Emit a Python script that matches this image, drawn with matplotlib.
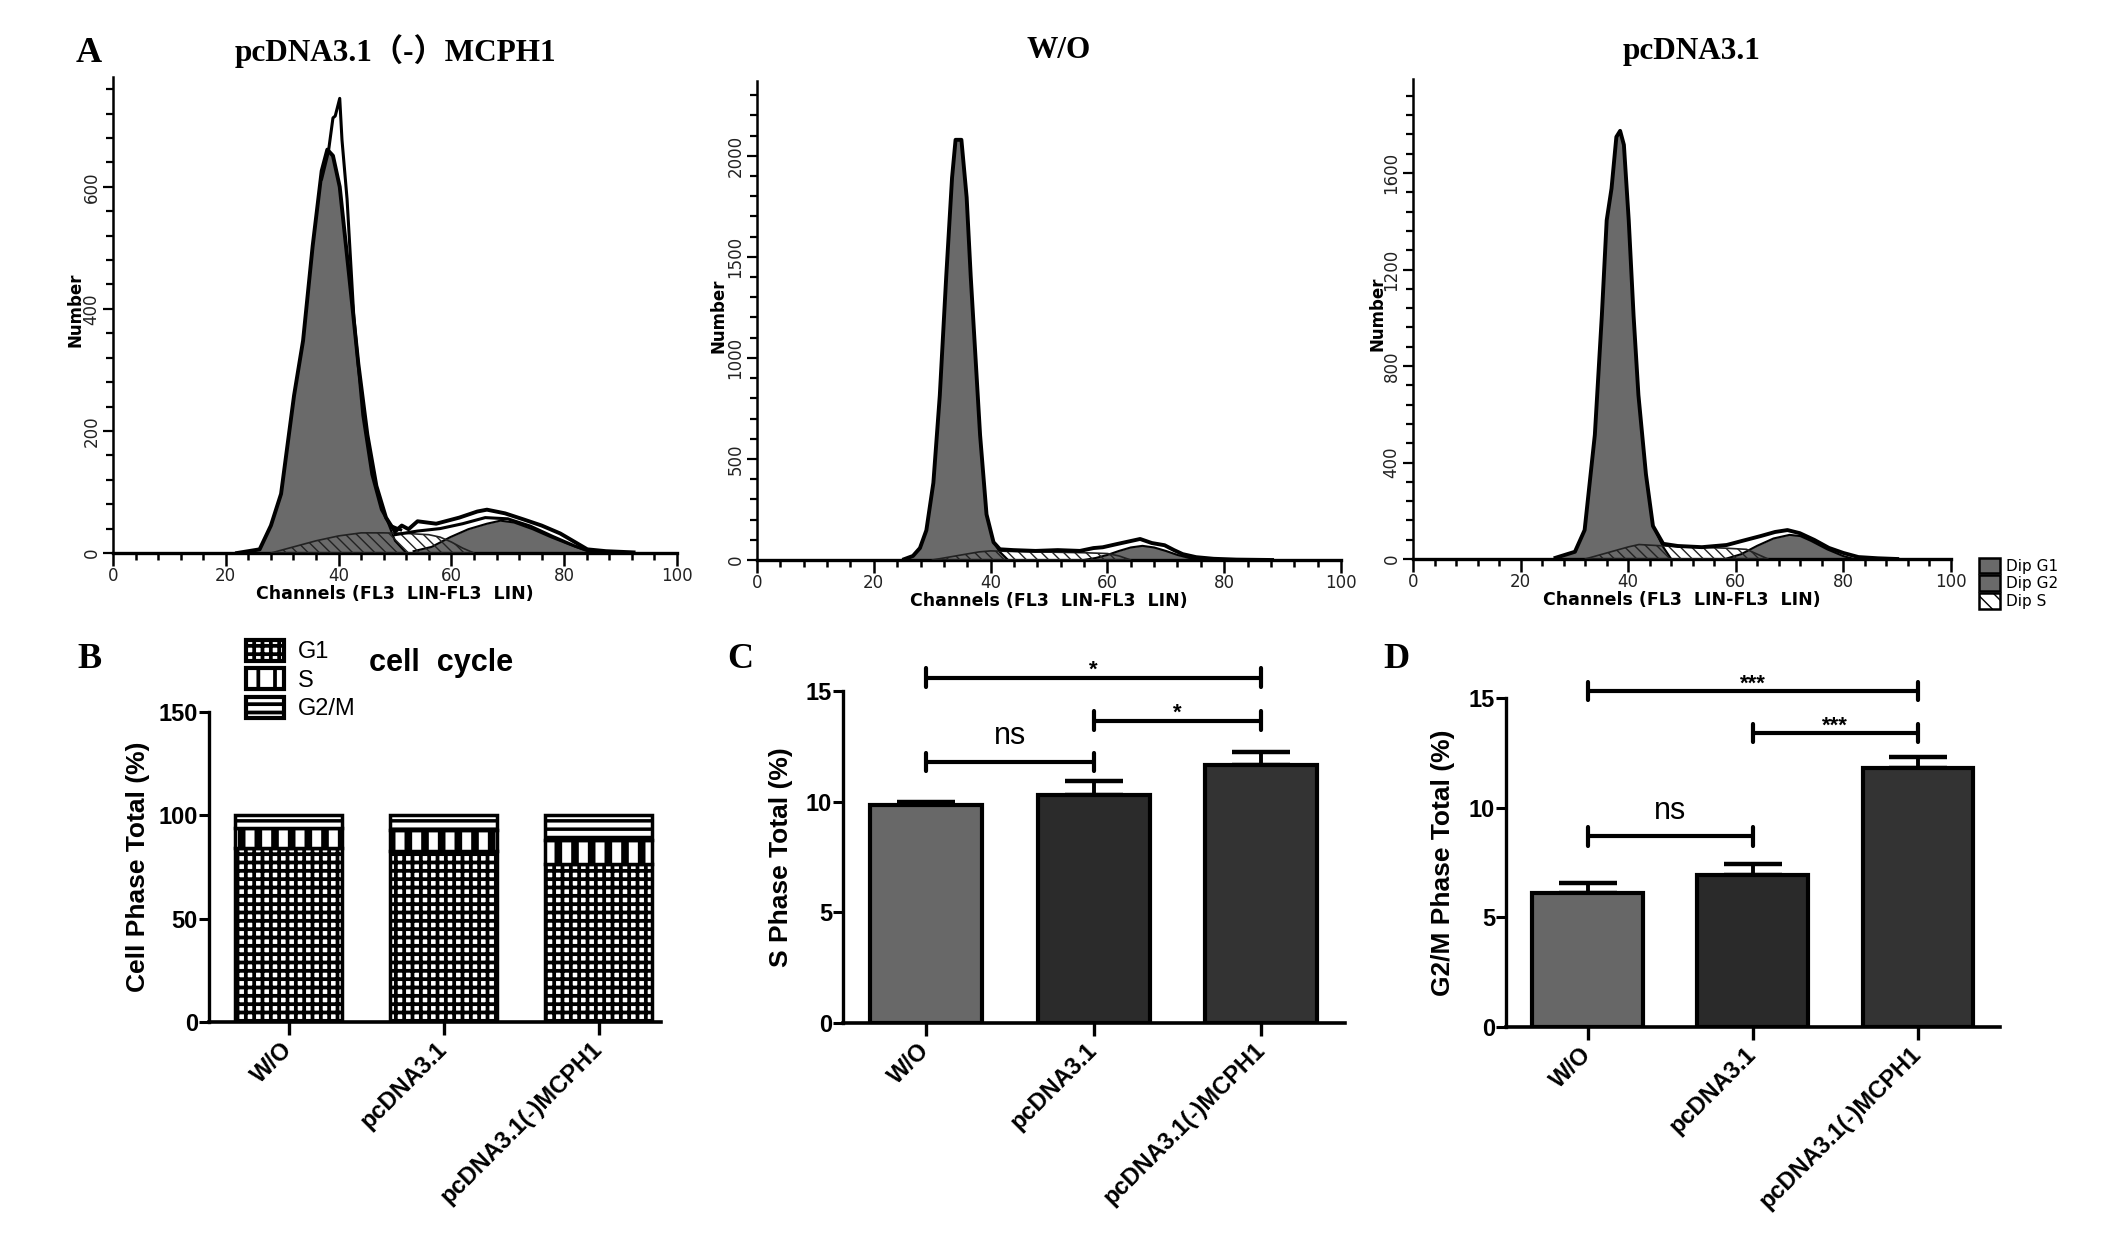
import matplotlib
matplotlib.use('Agg')
import numpy as np
import matplotlib.pyplot as plt
from matplotlib.patches import Patch
from matplotlib.ticker import MultipleLocator

W, H = 2126, 1239

# ---- panel A: flow cytometry histograms ----
# pcDNA3.1(-)MCPH1
mc_env_x = [22, 26, 28, 29.8, 32.1, 33.7, 35.4, 37, 38, 39, 40.2, 41.9, 43.5, 45.1, 46.7, 48.4, 50,
            51.2, 52.4, 54, 57.3, 61.4, 64.6, 66.3, 69.5, 72.8, 76, 79.3, 81.7, 84.1, 87.4, 92.3]
mc_env_y = [0, 6, 45, 97, 258, 348, 503, 626, 661, 651, 600, 452, 310, 194, 110, 58, 35,
            45, 39, 52, 48, 58, 68, 71, 65, 55, 45, 32, 19, 6, 3, 1]
mc_raw_x = [37, 38.2, 39, 39.4, 40.2, 40.6, 41.5, 42.7, 44.3, 45.9, 47.6, 49.2, 51]
mc_raw_y = [613, 658, 713, 716, 745, 677, 580, 387, 226, 129, 71, 45, 38]
mc_fit_x = [50, 54, 58, 62, 66, 70, 74, 78, 82, 85]
mc_fit_y = [30, 36, 40, 48, 58, 56, 44, 27, 11, 2]
mc_g1_x = [24, 26, 28, 29.8, 32.1, 33.7, 35.4, 37, 38, 39, 40.2, 41.9, 43.5, 45.1, 46.7, 48.4, 50, 52]
mc_g1_y = [0, 6, 45, 97, 258, 348, 503, 626, 661, 651, 600, 452, 310, 194, 110, 58, 20, 0]
mc_g2_x = [53.3, 56.5, 59.8, 63, 66.3, 68.7, 71.1, 74.4, 77.6, 80.9, 84.1, 85.8]
mc_g2_y = [3, 10, 26, 39, 48, 53, 50, 39, 26, 14, 3, 0]
mc_s_x = [28, 32, 36, 40, 44, 48, 52, 56, 58, 60, 62, 64]
mc_s_y = [0, 10, 20, 28, 33, 33, 32, 30, 26, 18, 8, 0]

# W/O
wo_env_x = [25.2, 26.7, 27.9, 29, 30.2, 31.3, 32.4, 33.4, 34, 35, 35.9, 36.6, 37.4, 38.2, 39.3, 40.5,
            41.6, 43.9, 47.7, 51.5, 55.3, 57.6, 59.2, 61.5, 63.7, 65.6, 67.6, 69.8, 71.4, 72.9, 75.2,
            78.2, 82.1, 88.2]
wo_env_y = [4, 20, 59, 147, 382, 814, 1402, 1892, 2079, 2079, 1794, 1402, 1010, 618, 226, 88,
            53, 49, 45, 49, 45, 59, 63, 78, 92, 104, 84, 73, 49, 29, 14, 6, 2, 0]
wo_g1_x = [25.2, 26.7, 27.9, 29, 30.2, 31.3, 32.4, 33.4, 34, 35, 35.9, 36.6, 37.4, 38.2, 39.3, 40.5, 41.6, 43]
wo_g1_y = [4, 20, 59, 147, 382, 814, 1402, 1892, 2079, 2079, 1794, 1402, 1010, 618, 226, 88, 40, 0]
wo_g2_x = [56, 58, 60, 62, 64, 66, 68, 70, 72, 74, 76]
wo_g2_y = [0, 10, 25, 45, 62, 70, 62, 45, 25, 10, 0]
wo_s_x = [30, 34, 38, 40, 44, 48, 52, 56, 60, 62, 64]
wo_s_y = [0, 20, 40, 45, 42, 40, 38, 36, 32, 20, 0]

# pcDNA3.1
pc_env_x = [26.5, 30.1, 31.9, 33.8, 35.1, 36, 36.9, 37.8, 38.5, 39.2, 40.1, 41, 41.9, 43.3, 44.6, 46.5,
            49.2, 53.7, 58.3, 61, 64.6, 67.3, 69.6, 71.9, 74.6, 77.3, 80, 82.8, 86.4, 90]
pc_env_y = [5, 30, 120, 515, 1009, 1404, 1536, 1750, 1775, 1717, 1404, 1009, 680, 351, 137, 63,
            54, 49, 58, 74, 95, 112, 120, 107, 79, 46, 25, 8, 3, 0]
pc_g1_x = [26.5, 30.1, 31.9, 33.8, 35.1, 36, 36.9, 37.8, 38.5, 39.2, 40.1, 41, 41.9, 43.3, 44.6, 46.5, 48]
pc_g1_y = [5, 30, 120, 515, 1009, 1404, 1536, 1750, 1775, 1717, 1404, 1009, 680, 351, 137, 50, 0]
pc_g2_x = [58, 61, 64, 67, 70, 72, 74, 77, 80, 82]
pc_g2_y = [0, 20, 55, 85, 100, 95, 75, 40, 12, 0]
pc_s_x = [32, 36, 40, 42, 46, 50, 54, 58, 62, 64, 66]
pc_s_y = [0, 25, 50, 60, 55, 50, 48, 45, 40, 20, 0]

# ---- panels B-D ----
groups = ['W/O', 'pcDNA3.1', 'pcDNA3.1(-)MCPH1']
g1_total = [84.1, 82.8, 76.5]
s_total = [9.86, 10.3, 11.66]
s_err = [0.14, 0.65, 0.6]
g2m_total = [6.13, 6.94, 11.81]
g2m_err = [0.45, 0.49, 0.5]
s_sig = [(0, 2, 15.6, '*'), (1, 2, 13.66, '*'), (0, 1, 11.8, 'ns')]
g2m_sig = [(0, 2, 15.32, '***'), (1, 2, 13.4, '***'), (0, 1, 8.69, 'ns')]

GRAY = '#6a6a6a'
SANS = 'Liberation Sans'
SERIF = ['Liberation Serif', 'Noto Sans CJK SC']

fig = plt.figure(figsize=(W / 100, H / 100), dpi=100)


def px_axes(l, t, r, b):
    return fig.add_axes([l / W, 1 - b / H, (r - l) / W, (b - t) / H])


def hist_panel(ax, env_x, env_y, g1_x, g1_y, g2_x, g2_y, s_x, s_y, ymax, major, minor):
    ax.fill_between(g1_x, g1_y, color=GRAY, lw=0, zorder=2)
    ax.plot(g1_x, g1_y, color='black', lw=1.5, zorder=3)
    ax.fill_between(g2_x, g2_y, color=GRAY, lw=0, zorder=2)
    ax.plot(g2_x, g2_y, color='black', lw=1.5, zorder=3)
    ax.fill_between(s_x, s_y, facecolor='none', edgecolor='#222222', hatch='\\\\\\', lw=1.2, zorder=4)
    ax.plot(env_x, env_y, color='black', lw=2.8, zorder=5)
    ax.set_xlim(0, 100)
    ax.set_ylim(0, ymax)
    ax.xaxis.set_major_locator(MultipleLocator(20))
    ax.xaxis.set_minor_locator(MultipleLocator(4))
    ax.yaxis.set_major_locator(MultipleLocator(major))
    ax.yaxis.set_minor_locator(MultipleLocator(minor))
    for s in ('top', 'right'):
        ax.spines[s].set_visible(False)
    ax.spines['left'].set_linewidth(1.8)
    ax.spines['bottom'].set_linewidth(2.4)
    ax.tick_params(axis='x', which='major', length=9, width=1.8, direction='out', labelsize=12,
                   labelcolor='#222222', pad=1)
    ax.tick_params(axis='x', which='minor', length=5, width=1.8, direction='out')
    ax.tick_params(axis='y', which='major', length=7, width=1.6, direction='out', labelsize=12,
                   labelcolor='#222222', labelrotation=90, pad=2)
    ax.tick_params(axis='y', which='minor', length=5, width=1.6, direction='out')
    for lab in ax.get_yticklabels():
        lab.set_va('center')
    ax.set_xlabel('Channels (FL3  LIN-FL3  LIN)', fontsize=12.5, fontweight='bold', labelpad=0)
    ax.set_ylabel('Number', fontsize=12, fontweight='bold', va='center')
    ax.yaxis.set_label_coords(-0.066, 0.51)


ax1 = px_axes(113, 77, 677, 553)
hist_panel(ax1, mc_env_x, mc_env_y, mc_g1_x, mc_g1_y, mc_g2_x, mc_g2_y, mc_s_x, mc_s_y, 780, 200, 40)
ax1.plot(mc_raw_x, mc_raw_y, color='black', lw=2.2, zorder=5)
ax1.plot(mc_fit_x, mc_fit_y, color='black', lw=2.2, zorder=5)

ax2 = px_axes(757, 81, 1341, 560)
hist_panel(ax2, wo_env_x, wo_env_y, wo_g1_x, wo_g1_y, wo_g2_x, wo_g2_y, wo_s_x, wo_s_y, 2370, 500, 100)

ax3 = px_axes(1413, 79, 1951, 559)
hist_panel(ax3, pc_env_x, pc_env_y, pc_g1_x, pc_g1_y, pc_g2_x, pc_g2_y, pc_s_x, pc_s_y, 1990, 400, 80)

fig.text(395 / W, 1 - 51 / H, 'pcDNA3.1（-）MCPH1', family=SERIF, fontsize=22.5, fontweight='bold',
         ha='center', va='center')
fig.text(1059 / W, 1 - 50 / H, 'W/O', family=SERIF, fontsize=22.5, fontweight='bold', ha='center', va='center')
fig.text(1692 / W, 1 - 51 / H, 'pcDNA3.1', family=SERIF, fontsize=22.5, fontweight='bold', ha='center', va='center')

dip_handles = [Patch(facecolor=GRAY, edgecolor='black', lw=1.8),
               Patch(facecolor=GRAY, edgecolor='black', lw=1.8),
               Patch(facecolor='white', edgecolor='black', hatch='\\\\', lw=1.8)]
fig.legend(dip_handles, ['Dip G1', 'Dip G2', 'Dip S'], loc='upper left',
           bbox_to_anchor=(1971 / W, 1 - 550 / H), frameon=False, fontsize=11,
           handlelength=1.4, handleheight=1.2, handletextpad=0.4, labelspacing=0.12, borderpad=0)


# ---- bar chart helpers ----
def bar_style(ax, ymax, major, ylabel, lab_x):
    ax.set_ylim(0, ymax)
    ax.yaxis.set_major_locator(MultipleLocator(major))
    ax.set_xticks(range(3))
    ax.set_xticklabels(groups, rotation=45, ha='right', va='center', rotation_mode='anchor',
                       fontsize=17, fontweight='bold', family=SANS)
    for lab in ax.get_yticklabels():
        lab.set_fontweight('bold')
        lab.set_family(SANS)
        lab.set_fontsize(17)
    for s in ('top', 'right'):
        ax.spines[s].set_visible(False)
    ax.spines['left'].set_linewidth(2.4)
    ax.spines['bottom'].set_linewidth(2.6)
    ax.tick_params(axis='y', length=7, width=2.2, pad=1)
    ax.tick_params(axis='x', length=9, width=2.4, pad=8)
    ax.set_ylabel(ylabel, fontsize=19, fontweight='bold', family=SANS, va='center')
    ax.yaxis.set_label_coords(lab_x, 0.5)


def hatch_lw(bars, lw):
    for p in bars:
        if hasattr(p, 'set_hatch_linewidth'):
            p.set_hatch_linewidth(lw)


# B: stacked cell cycle
axb = px_axes(209, 712, 661, 1022)
xb = np.arange(3)
g1b = axb.bar(xb, g1_total, width=0.69, color='white', edgecolor='black', hatch='++', lw=2.5)
hatch_lw(g1b, 2.7)
sb = axb.bar(xb, s_total, bottom=g1_total, width=0.69, color='white', edgecolor='black', hatch='|', lw=2.5)
hatch_lw(sb, 5.5)
bottom_g2 = [a + b for a, b in zip(g1_total, s_total)]
g2b = axb.bar(xb, g2m_total, bottom=bottom_g2, width=0.69, color='white', edgecolor='black', hatch='--', lw=2.5)
hatch_lw(g2b, 2.5)
axb.set_xlim(-0.513, 2.40)
bar_style(axb, 150, 50, 'Cell Phase Total (%)', -0.157)

leg_handles = [Patch(facecolor='white', edgecolor='black', hatch='++', lw=3),
               Patch(facecolor='white', edgecolor='black', hatch='|', lw=3),
               Patch(facecolor='white', edgecolor='black', hatch='--', lw=3)]
leg = fig.legend(leg_handles, ['G1', 'S', 'G2/M'], loc='upper left', bbox_to_anchor=(234 / W, 1 - 628 / H),
                 frameon=False, prop={'family': SANS, 'size': 17}, handlelength=1.6, handleheight=1.0,
                 handletextpad=0.6, labelspacing=0.2, borderpad=0)
hatch_lw(leg.get_patches(), 2.7)
fig.text(441 / W, 1 - 663 / H, 'cell  cycle', family=SANS, fontsize=22, fontweight='bold',
         ha='center', va='center')


def sig_panel(ax, vals, errs, colors, sig, star_off, ns_off):
    x = np.arange(3)
    ax.errorbar(x, vals, yerr=[np.zeros(3), errs], fmt='none', ecolor='black', elinewidth=2.8,
                capsize=21, capthick=3.2, zorder=1)
    ax.bar(x, vals, width=0.67, color=colors, edgecolor='black', lw=3, zorder=2)
    for a, b, h, lab in sig:
        ax.plot([a, b], [h, h], color='black', lw=3, clip_on=False, solid_capstyle='butt')
        for e in (a, b):
            ax.plot([e, e], [h - 0.42, h + 0.42], color='black', lw=3, clip_on=False,
                    solid_capstyle='round')
        if lab == 'ns':
            ax.text((a + b) / 2, h + ns_off, lab, fontsize=22, family=SANS, ha='center', va='center')
        else:
            ax.text((a + b) / 2, h + star_off, lab, fontsize=16, fontweight='bold', family=SANS,
                    ha='center', va='center')


axc = px_axes(843, 691, 1345, 1023)
sig_panel(axc, s_total, s_err, ['#686868', '#2b2b2b', '#333333'], s_sig, 0.35, 1.15)
axc.set_xlim(-0.496, 2.50)
bar_style(axc, 15, 5, 'S Phase Total (%)', -0.1245)

axd = px_axes(1506, 698, 2000, 1027)
sig_panel(axd, g2m_total, g2m_err, ['#676767', '#2a2a2a', '#333333'], g2m_sig, 0.3, 1.15)
axd.set_xlim(-0.494, 2.497)
bar_style(axd, 15, 5, 'G2/M Phase Total (%)', -0.128)

for lab, x, y in [('A', 89, 53), ('B', 89.5, 659), ('C', 740, 659), ('D', 1396, 659)]:
    fig.text(x / W, 1 - y / H, lab, family=SERIF, fontsize=26, fontweight='bold', ha='center', va='center')

fig.savefig('out.png', dpi=100)
